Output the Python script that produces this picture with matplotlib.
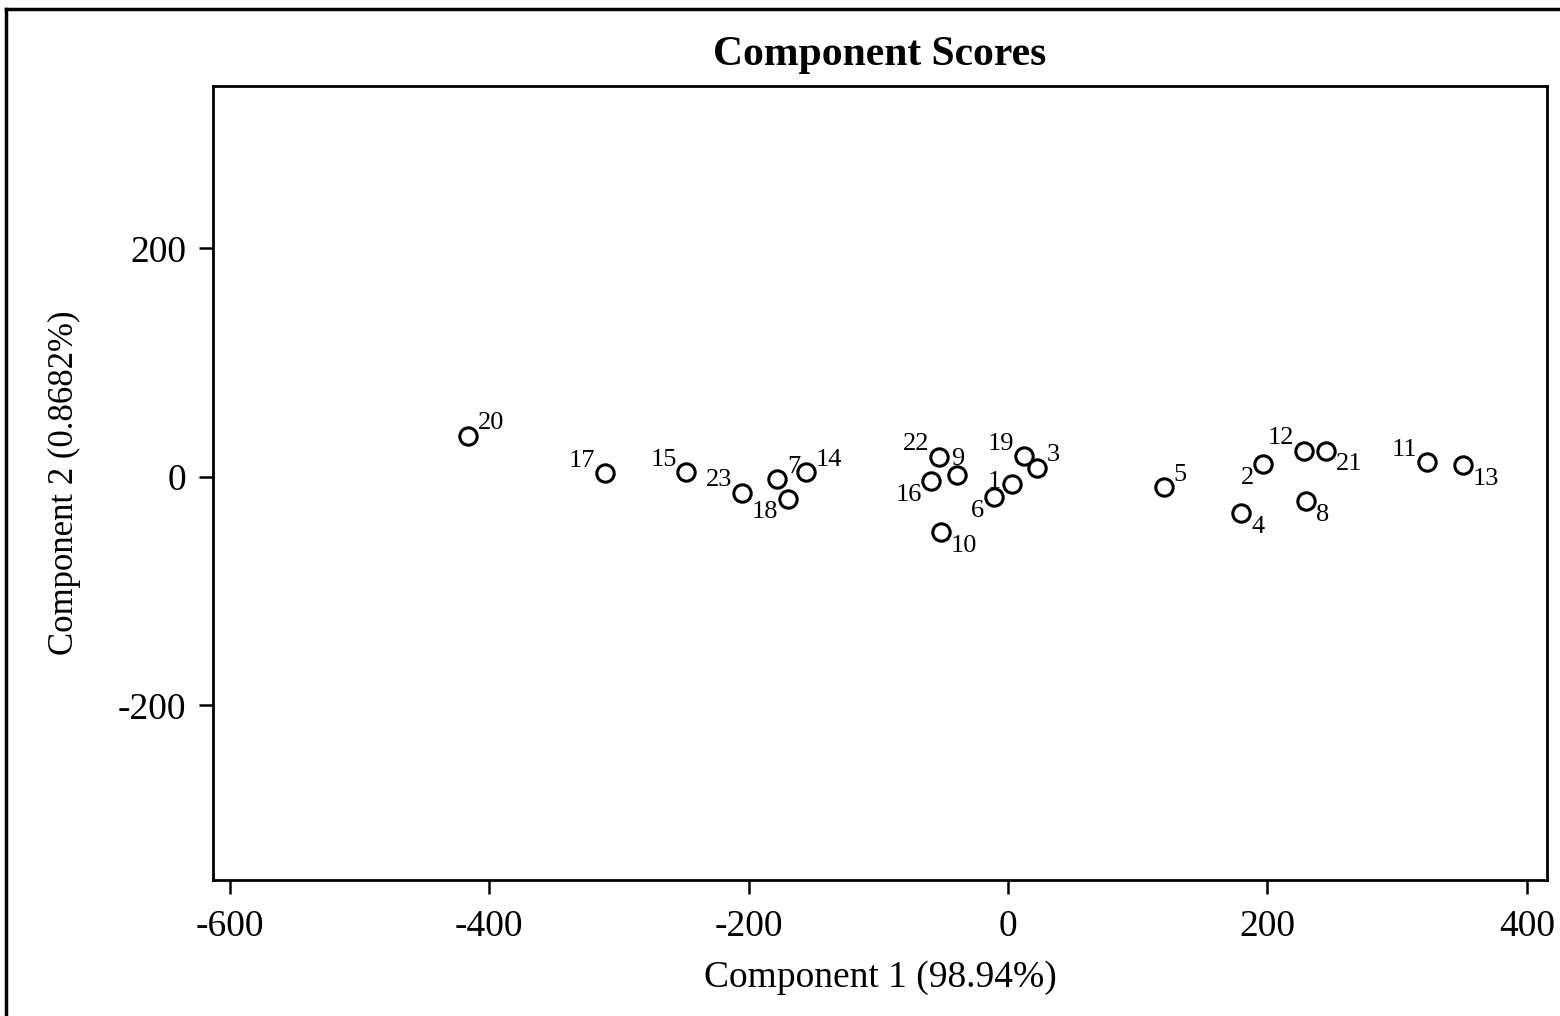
import matplotlib.pyplot as plt
from matplotlib.lines import Line2D

plt.rcParams['font.family'] = ['Liberation Serif', 'DejaVu Serif']
plt.rcParams['axes.unicode_minus'] = False

# component scores
ids = ['20', '17', '15', '23', '7', '14', '18', '22', '9', '16', '10',
       '19', '3', '1', '6', '5', '2', '12', '21', '4', '8', '11', '13']
comp1 = [-416, -311, -248, -205, -178, -156, -170, -53, -39, -59, -52,
         12, 22, 3, -11, 120, 197, 228, 245, 180, 230, 323, 351]
comp2 = [36, 3, 4, -14, -2, 4, -19, 17.5, 2, -4, -48,
         18, 8, -6, -18, -9, 11, 23, 23, -32, -21, 13, 10]
# where each label sits relative to its point
label_pos = ['ur', 'ul', 'ul', 'ul', 'ur', 'ur', 'll', 'ul', 'u', 'll', 'lr',
             'ul', 'ur', 'l', 'll', 'ur', 'll', 'ul', 'lr', 'lr', 'lr', 'ul', 'lr']

fig = plt.figure(figsize=(15.6, 10.16), dpi=100)
ax = fig.add_axes([213 / 1560, 1 - 880 / 1016, (1547 - 213) / 1560, (880 - 86) / 1016])

ax.plot(comp1, comp2, 'o', mfc='none', mec='black', ms=12.5, mew=2.2)

offsets = {'ur': (7, 9, 'left'), 'ul': (-7, 9, 'right'),
           'll': (-7, -10, 'right'), 'lr': (7, -10, 'left'),
           'u': (0, 11, 'center'), 'l': (-8, 1, 'right')}
for name, x, y, p in zip(ids, comp1, comp2, label_pos):
    dx, dy, ha = offsets[p]
    ax.annotate(name, (x, y), xytext=(dx, dy), textcoords='offset points',
                ha=ha, va='center', fontsize=19)

ax.set_xlim(-613, 415.6)
ax.set_ylim(-352.7, 342)
ax.set_xticks([-600, -400, -200, 0, 200, 400])
ax.set_yticks([-200, 0, 200])
ax.tick_params(direction='out', length=10, width=1.8, labelsize=27)
ax.tick_params(axis='x', pad=11)
ax.tick_params(axis='y', pad=9)
for s in ax.spines.values():
    s.set_linewidth(2)

ax.set_title('Component Scores', fontsize=30, fontweight='bold', pad=15)
ax.set_xlabel('Component 1 (98.94%)', fontsize=27, labelpad=12)
ax.set_ylabel('Component 2 (0.8682%)', fontsize=25, labelpad=27)

# outer frame on the left and top
fig.add_artist(Line2D([6 / 1560, 6 / 1560], [0, 1 - 9 / 1016], color='black', lw=2.5,
                      transform=fig.transFigure))
fig.add_artist(Line2D([6 / 1560, 1], [1 - 9 / 1016, 1 - 9 / 1016], color='black', lw=2.5,
                      transform=fig.transFigure))

fig.savefig('out.png', dpi=100)
